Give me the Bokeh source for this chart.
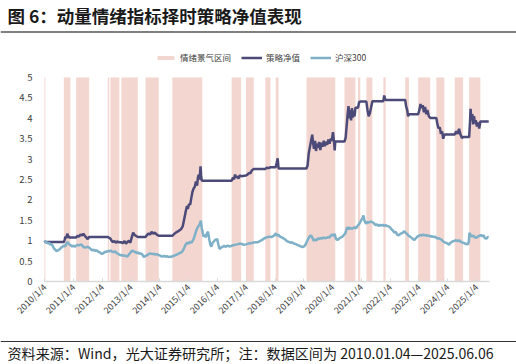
import math
from bokeh.plotting import figure
from bokeh.models import FixedTicker, Legend, LegendItem, Range1d, ColumnDataSource, Label, Span
from bokeh.embed import file_html
from bokeh.resources import INLINE

TITLE = "图 6：动量情绪指标择时策略净值表现"
FOOTNOTE = "资料来源：Wind，光大证券研究所；注：数据区间为 2010.01.04—2025.06.06"
LEGEND_LABELS = ["情绪景气区间", "策略净值", "沪深300"]

x_tick_years = list(range(2010, 2026))
x_tick_labels = [f"{y}/1/4" for y in x_tick_years]
y_ticks = [0, 0.5, 1, 1.5, 2, 2.5, 3, 3.5, 4, 4.5, 5]
y_tick_labels = ["0", "0.5", "1", "1.5", "2", "2.5", "3", "3.5", "4", "4.5", "5"]
x_start, x_end = 2010.0, 2025.44
y_min, y_max = 0, 5

band_start = [2010.00, 2010.67, 2011.10, 2012.20, 2012.29, 2012.67, 2013.51, 2014.44, 2016.50, 2017.00,
              2017.67, 2018.03, 2019.10, 2020.42, 2020.89, 2021.18, 2021.77, 2022.53, 2022.98, 2023.61,
              2024.25, 2024.75]
band_end = [2010.03, 2010.90, 2011.55, 2012.25, 2012.60, 2013.24, 2013.97, 2015.48, 2016.83, 2017.27,
            2017.85, 2018.13, 2020.10, 2020.80, 2020.97, 2021.39, 2021.85, 2022.66, 2023.40, 2023.89,
            2024.54, 2025.14]

strat_x = [2010.00, 2010.03, 2010.67, 2010.70, 2010.73, 2010.76, 2010.79, 2010.82, 2010.86, 2010.90,
           2011.10, 2011.15, 2011.20, 2011.25, 2011.30, 2011.35, 2011.40, 2011.45, 2011.50, 2011.55,
           2012.20, 2012.25, 2012.29, 2012.33, 2012.38, 2012.43, 2012.48, 2012.53, 2012.60, 2012.67,
           2012.72, 2012.78, 2012.83, 2012.88, 2012.93, 2012.98, 2013.03, 2013.08, 2013.12, 2013.17,
           2013.24, 2013.51, 2013.56, 2013.62, 2013.67, 2013.72, 2013.78, 2013.83, 2013.90, 2013.97,
           2014.44, 2014.50, 2014.56, 2014.62, 2014.68, 2014.74, 2014.80, 2014.85, 2014.90, 2014.95,
           2014.98, 2015.02, 2015.06, 2015.10, 2015.14, 2015.18, 2015.22, 2015.26, 2015.30, 2015.33,
           2015.36, 2015.39, 2015.42, 2015.44, 2015.46, 2015.48, 2016.50, 2016.55, 2016.58, 2016.62,
           2016.66, 2016.70, 2016.74, 2016.78, 2016.83, 2017.00, 2017.05, 2017.10, 2017.15, 2017.20,
           2017.27, 2017.67, 2017.72, 2017.78, 2017.85, 2018.03, 2018.07, 2018.10, 2018.12, 2018.13,
           2019.10, 2019.14, 2019.18, 2019.22, 2019.26, 2019.30, 2019.33, 2019.36, 2019.40, 2019.43,
           2019.47, 2019.50, 2019.54, 2019.58, 2019.62, 2019.66, 2019.70, 2019.74, 2019.78, 2019.82,
           2019.86, 2019.90, 2019.94, 2019.98, 2020.02, 2020.06, 2020.08, 2020.10, 2020.42, 2020.46,
           2020.50, 2020.53, 2020.56, 2020.59, 2020.62, 2020.65, 2020.68, 2020.71, 2020.74, 2020.77,
           2020.80, 2020.89, 2020.93, 2020.97, 2021.18, 2021.22, 2021.26, 2021.30, 2021.34, 2021.39,
           2021.77, 2021.80, 2021.83, 2021.85, 2022.53, 2022.56, 2022.60, 2022.63, 2022.66, 2022.98,
           2023.02, 2023.06, 2023.10, 2023.14, 2023.18, 2023.22, 2023.26, 2023.30, 2023.35, 2023.40,
           2023.61, 2023.65, 2023.69, 2023.73, 2023.77, 2023.81, 2023.85, 2023.89, 2024.25, 2024.30,
           2024.35, 2024.40, 2024.45, 2024.50, 2024.54, 2024.75, 2024.78, 2024.80, 2024.83, 2024.86,
           2024.89, 2024.92, 2024.95, 2024.98, 2025.02, 2025.06, 2025.10, 2025.14, 2025.43]
strat_y = [1.00, 0.97, 0.97, 1.02, 1.10, 1.06, 1.17, 1.12, 1.08, 1.08,
           1.08, 1.12, 1.10, 1.15, 1.13, 1.17, 1.12, 1.08, 1.04, 1.09,
           1.09, 1.07, 1.05, 1.00, 0.97, 0.99, 0.95, 0.98, 0.96, 0.96,
           0.94, 0.99, 0.93, 0.97, 1.00, 0.95, 1.08, 1.20, 1.15, 1.12,
           1.09, 1.09, 1.14, 1.18, 1.15, 1.22, 1.17, 1.20, 1.15, 1.12,
           1.12, 1.16, 1.20, 1.22, 1.25, 1.28, 1.35, 1.52, 1.70, 1.85,
           1.78, 1.90, 1.88, 2.05, 2.20, 2.28, 2.32, 2.45, 2.35, 2.55,
           2.62, 2.50, 2.82, 2.60, 2.48, 2.47, 2.47, 2.55, 2.50, 2.62,
           2.55, 2.58, 2.52, 2.60, 2.58, 2.60, 2.62, 2.66, 2.65, 2.72,
           2.76, 2.76, 2.79, 2.78, 2.80, 2.80, 2.92, 3.02, 2.85, 2.77,
           2.77, 2.85, 3.15, 3.30, 3.45, 3.60, 3.40, 3.25, 3.45, 3.20,
           3.38, 3.28, 3.42, 3.22, 3.40, 3.30, 3.45, 3.32, 3.42, 3.35,
           3.48, 3.38, 3.50, 3.45, 3.66, 3.40, 3.21, 3.43, 3.43, 3.52,
           3.85, 4.10, 4.30, 4.00, 4.20, 3.95, 4.25, 4.02, 4.18, 4.05,
           4.26, 4.26, 4.40, 4.41, 4.41, 4.20, 4.05, 4.12, 4.25, 4.42,
           4.42, 4.56, 4.48, 4.45, 4.45, 4.30, 4.20, 4.05, 4.10, 4.10,
           4.20, 4.35, 4.25, 4.32, 4.15, 4.28, 4.10, 4.20, 4.05, 4.01,
           4.01, 3.85, 3.75, 3.78, 3.62, 3.68, 3.50, 3.60, 3.60, 3.68,
           3.62, 3.74, 3.60, 3.52, 3.54, 3.54, 3.90, 4.23, 3.95, 4.10,
           3.85, 4.05, 3.88, 3.95, 3.80, 3.90, 3.75, 3.92, 3.92]

hs_x = [2010.00, 2010.04, 2010.08, 2010.12, 2010.17, 2010.21, 2010.25, 2010.30, 2010.34, 2010.38,
        2010.42, 2010.46, 2010.50, 2010.54, 2010.58, 2010.62, 2010.67, 2010.72, 2010.76, 2010.80,
        2010.84, 2010.88, 2010.92, 2010.96, 2011.00, 2011.05, 2011.10, 2011.15, 2011.20, 2011.25,
        2011.30, 2011.35, 2011.40, 2011.45, 2011.50, 2011.55, 2011.60, 2011.65, 2011.70, 2011.75,
        2011.80, 2011.85, 2011.90, 2011.95, 2012.00, 2012.05, 2012.10, 2012.15, 2012.20, 2012.25,
        2012.30, 2012.35, 2012.40, 2012.45, 2012.50, 2012.55, 2012.60, 2012.65, 2012.70, 2012.75,
        2012.80, 2012.85, 2012.90, 2012.95, 2013.00, 2013.05, 2013.10, 2013.15, 2013.20, 2013.25,
        2013.30, 2013.35, 2013.40, 2013.45, 2013.50, 2013.55, 2013.60, 2013.65, 2013.70, 2013.75,
        2013.80, 2013.85, 2013.90, 2013.95, 2014.00, 2014.05, 2014.10, 2014.15, 2014.20, 2014.25,
        2014.30, 2014.35, 2014.40, 2014.45, 2014.50, 2014.55, 2014.60, 2014.65, 2014.70, 2014.75,
        2014.80, 2014.85, 2014.90, 2014.95, 2015.00, 2015.05, 2015.10, 2015.15, 2015.20, 2015.25,
        2015.30, 2015.35, 2015.40, 2015.43, 2015.46, 2015.50, 2015.53, 2015.57, 2015.60, 2015.64,
        2015.68, 2015.72, 2015.76, 2015.80, 2015.84, 2015.88, 2015.93, 2016.00, 2016.04, 2016.08,
        2016.12, 2016.18, 2016.24, 2016.30, 2016.36, 2016.42, 2016.48, 2016.55, 2016.62, 2016.70,
        2016.78, 2016.86, 2016.92, 2017.00, 2017.08, 2017.16, 2017.24, 2017.32, 2017.40, 2017.48,
        2017.56, 2017.64, 2017.72, 2017.80, 2017.88, 2017.96, 2018.04, 2018.07, 2018.12, 2018.18,
        2018.24, 2018.30, 2018.36, 2018.42, 2018.48, 2018.54, 2018.60, 2018.66, 2018.72, 2018.78,
        2018.84, 2018.90, 2018.96, 2019.02, 2019.08, 2019.14, 2019.20, 2019.26, 2019.30, 2019.35,
        2019.40, 2019.45, 2019.50, 2019.55, 2019.60, 2019.65, 2019.70, 2019.75, 2019.80, 2019.85,
        2019.90, 2019.95, 2020.00, 2020.04, 2020.08, 2020.12, 2020.16, 2020.20, 2020.25, 2020.30,
        2020.35, 2020.40, 2020.45, 2020.50, 2020.53, 2020.57, 2020.62, 2020.67, 2020.72, 2020.77,
        2020.82, 2020.87, 2020.92, 2020.96, 2021.00, 2021.04, 2021.08, 2021.11, 2021.14, 2021.18,
        2021.22, 2021.26, 2021.30, 2021.35, 2021.40, 2021.45, 2021.50, 2021.55, 2021.60, 2021.65,
        2021.70, 2021.75, 2021.80, 2021.85, 2021.90, 2021.95, 2022.00, 2022.05, 2022.10, 2022.15,
        2022.20, 2022.25, 2022.30, 2022.35, 2022.40, 2022.45, 2022.50, 2022.55, 2022.60, 2022.65,
        2022.70, 2022.75, 2022.80, 2022.85, 2022.90, 2022.95, 2023.00, 2023.05, 2023.10, 2023.15,
        2023.20, 2023.25, 2023.30, 2023.35, 2023.40, 2023.45, 2023.50, 2023.55, 2023.60, 2023.65,
        2023.70, 2023.75, 2023.80, 2023.85, 2023.90, 2023.95, 2024.00, 2024.05, 2024.10, 2024.15,
        2024.20, 2024.25, 2024.30, 2024.35, 2024.40, 2024.45, 2024.50, 2024.55, 2024.60, 2024.65,
        2024.70, 2024.74, 2024.76, 2024.80, 2024.85, 2024.90, 2024.95, 2025.00, 2025.05, 2025.10,
        2025.15, 2025.20, 2025.25, 2025.30, 2025.35, 2025.40, 2025.43]
hs_y = [1.00, 0.95, 0.97, 0.93, 0.95, 0.90, 0.92, 0.85, 0.80, 0.78,
        0.74, 0.76, 0.78, 0.80, 0.83, 0.85, 0.88, 0.86, 0.93, 0.97,
        0.92, 0.90, 0.88, 0.86, 0.88, 0.85, 0.88, 0.90, 0.88, 0.91,
        0.89, 0.85, 0.83, 0.84, 0.85, 0.83, 0.80, 0.76, 0.78, 0.75,
        0.77, 0.74, 0.72, 0.70, 0.67, 0.70, 0.73, 0.72, 0.75, 0.74,
        0.76, 0.73, 0.72, 0.74, 0.70, 0.68, 0.66, 0.64, 0.65, 0.63,
        0.64, 0.61, 0.63, 0.68, 0.72, 0.76, 0.74, 0.72, 0.70, 0.71,
        0.68, 0.69, 0.66, 0.60, 0.62, 0.64, 0.66, 0.69, 0.68, 0.67,
        0.68, 0.66, 0.67, 0.65, 0.64, 0.62, 0.61, 0.63, 0.61, 0.62,
        0.60, 0.61, 0.60, 0.62, 0.63, 0.65, 0.66, 0.68, 0.70, 0.71,
        0.75, 0.82, 0.90, 0.95, 0.93, 0.97, 0.95, 1.00, 1.08, 1.20,
        1.30, 1.36, 1.42, 1.49, 1.32, 1.18, 1.10, 1.15, 1.08, 1.18,
        1.22, 1.05, 0.90, 0.86, 0.95, 0.98, 1.02, 1.04, 0.90, 0.80,
        0.82, 0.85, 0.87, 0.85, 0.88, 0.86, 0.87, 0.89, 0.90, 0.91,
        0.93, 0.92, 0.90, 0.91, 0.93, 0.94, 0.95, 0.96, 0.96, 0.99,
        1.02, 1.06, 1.08, 1.10, 1.09, 1.12, 1.18, 1.12, 1.15, 1.10,
        1.08, 1.06, 1.03, 0.99, 0.97, 0.95, 0.96, 0.93, 0.92, 0.90,
        0.88, 0.86, 0.84, 0.86, 0.92, 1.02, 1.10, 1.13, 1.08, 1.00,
        1.03, 1.01, 1.06, 1.04, 1.07, 1.05, 1.08, 1.06, 1.07, 1.09,
        1.08, 1.13, 1.15, 1.12, 1.17, 1.05, 1.02, 1.03, 1.06, 1.08,
        1.10, 1.14, 1.18, 1.30, 1.33, 1.28, 1.32, 1.29, 1.31, 1.33,
        1.30, 1.36, 1.40, 1.45, 1.50, 1.55, 1.62, 1.50, 1.45, 1.42,
        1.47, 1.44, 1.46, 1.47, 1.45, 1.42, 1.38, 1.40, 1.36, 1.39,
        1.37, 1.39, 1.36, 1.38, 1.36, 1.35, 1.33, 1.28, 1.25, 1.20,
        1.22, 1.15, 1.13, 1.16, 1.18, 1.20, 1.23, 1.19, 1.16, 1.12,
        1.10, 1.07, 1.04, 1.02, 1.06, 1.10, 1.12, 1.14, 1.13, 1.15,
        1.13, 1.14, 1.12, 1.13, 1.10, 1.11, 1.09, 1.10, 1.08, 1.05,
        1.06, 1.04, 1.02, 0.98, 0.96, 0.95, 0.93, 0.90, 0.95, 0.97,
        0.99, 1.00, 1.01, 0.99, 1.01, 0.98, 0.96, 0.95, 0.93, 0.92,
        0.91, 0.97, 1.19, 1.14, 1.10, 1.13, 1.08, 1.07, 1.10, 1.12,
        1.14, 1.11, 1.13, 1.06, 1.05, 1.09, 1.09]

FONT = "Noto Sans CJK SC"
BAND_COLOR = "#f4d6d0"
STRAT_COLOR = "#4b4a78"
HS_COLOR = "#7eb0c8"

# ---- layout (pixels inside the figure; the page puts the figure at its top-left corner) ----
W, H = 516, 364
PLOT_L, PLOT_R = 44, 488.5      # where x_start / x_end fall
PLOT_T, PLOT_B = 77, 281        # where y_max / y_min fall

xs = (x_end - x_start) / (PLOT_R - PLOT_L)
ys = (y_max - y_min) / (PLOT_B - PLOT_T)
xr = Range1d(x_start - PLOT_L * xs, x_end + (W - PLOT_R) * xs)
yr = Range1d(y_min - (H - PLOT_B) * ys, y_max + PLOT_T * ys)

p = figure(width=W, height=H, x_range=xr, y_range=yr, output_backend="svg",
           toolbar_location=None, min_border=0)
p.outline_line_color = None
p.xgrid.grid_line_color = None
p.ygrid.grid_line_color = None
p.background_fill_color = "white"
p.border_fill_color = "white"

band_src = ColumnDataSource(dict(left=band_start, right=band_end))
r_band = p.quad(left="left", right="right", bottom=y_min, top=y_max, source=band_src,
                fill_color=BAND_COLOR, line_color=None)
r_strat = p.line(strat_x, strat_y, line_color=STRAT_COLOR, line_width=2.5)
r_hs = p.line(hs_x, hs_y, line_color=HS_COLOR, line_width=2.5)

tick_pos = [y + 3 / 365 for y in x_tick_years]
p.xaxis.fixed_location = y_min
p.xaxis.bounds = (x_start, x_end)
p.xaxis.ticker = FixedTicker(ticks=tick_pos)
p.xaxis.major_label_overrides = {t: l for t, l in zip(tick_pos, x_tick_labels)}
p.xaxis.major_label_orientation = math.pi / 4
p.xaxis.axis_line_color = "#d9d9d9"
p.xaxis.axis_line_width = 1.5
p.xaxis.major_tick_in = 3
p.xaxis.major_tick_out = 0
p.xaxis.major_tick_line_color = "#d9d9d9"
p.xaxis.minor_tick_line_color = None
p.xaxis.major_label_text_font_size = "9px"
p.xaxis.major_label_text_color = "#404040"
p.xaxis.major_label_text_font = FONT
p.xaxis.major_label_standoff = 4

p.yaxis.fixed_location = x_start
p.yaxis.ticker = FixedTicker(ticks=y_ticks)
p.yaxis.major_label_overrides = {t: l for t, l in zip(y_ticks, y_tick_labels)}
p.yaxis.axis_line_color = None
p.yaxis.major_tick_line_color = None
p.yaxis.minor_tick_line_color = None
p.yaxis.major_label_text_font_size = "9.5px"
p.yaxis.major_label_text_color = "#404040"
p.yaxis.major_label_text_font = FONT
p.yaxis.major_label_standoff = 6

legend = Legend(items=[LegendItem(label=LEGEND_LABELS[0], renderers=[r_band]),
                       LegendItem(label=LEGEND_LABELS[1], renderers=[r_strat]),
                       LegendItem(label=LEGEND_LABELS[2], renderers=[r_hs])],
                orientation="horizontal", location=(155, H - 63),
                background_fill_alpha=0, border_line_alpha=0,
                label_text_font_size="8.5px", label_text_color="#404040", label_text_font=FONT,
                glyph_width=21, glyph_height=5, label_standoff=4, spacing=10,
                padding=0, margin=0, label_height=12)
p.add_layout(legend, "center")

p.add_layout(Label(x=7, y=H - 14.5, x_units="screen", y_units="screen", text=TITLE,
                   text_font=FONT, text_font_size="17.5px", text_font_style="bold",
                   text_color="#1a1a1a", text_baseline="middle", text_align="left"))
p.add_layout(Span(location=H - 31.5, dimension="width", location_units="screen",
                  line_color="#7f7f7f", line_width=2))
p.add_layout(Span(location=H - 341, dimension="width", location_units="screen",
                  line_color="#333333", line_width=1.2))
p.add_layout(Label(x=7, y=H - 352.5, x_units="screen", y_units="screen", text=FOOTNOTE,
                   text_font=FONT, text_font_size="14.1px", text_color="#1a1a1a",
                   text_baseline="middle", text_align="left"))

open("out.html", "w").write(file_html(p, INLINE))
